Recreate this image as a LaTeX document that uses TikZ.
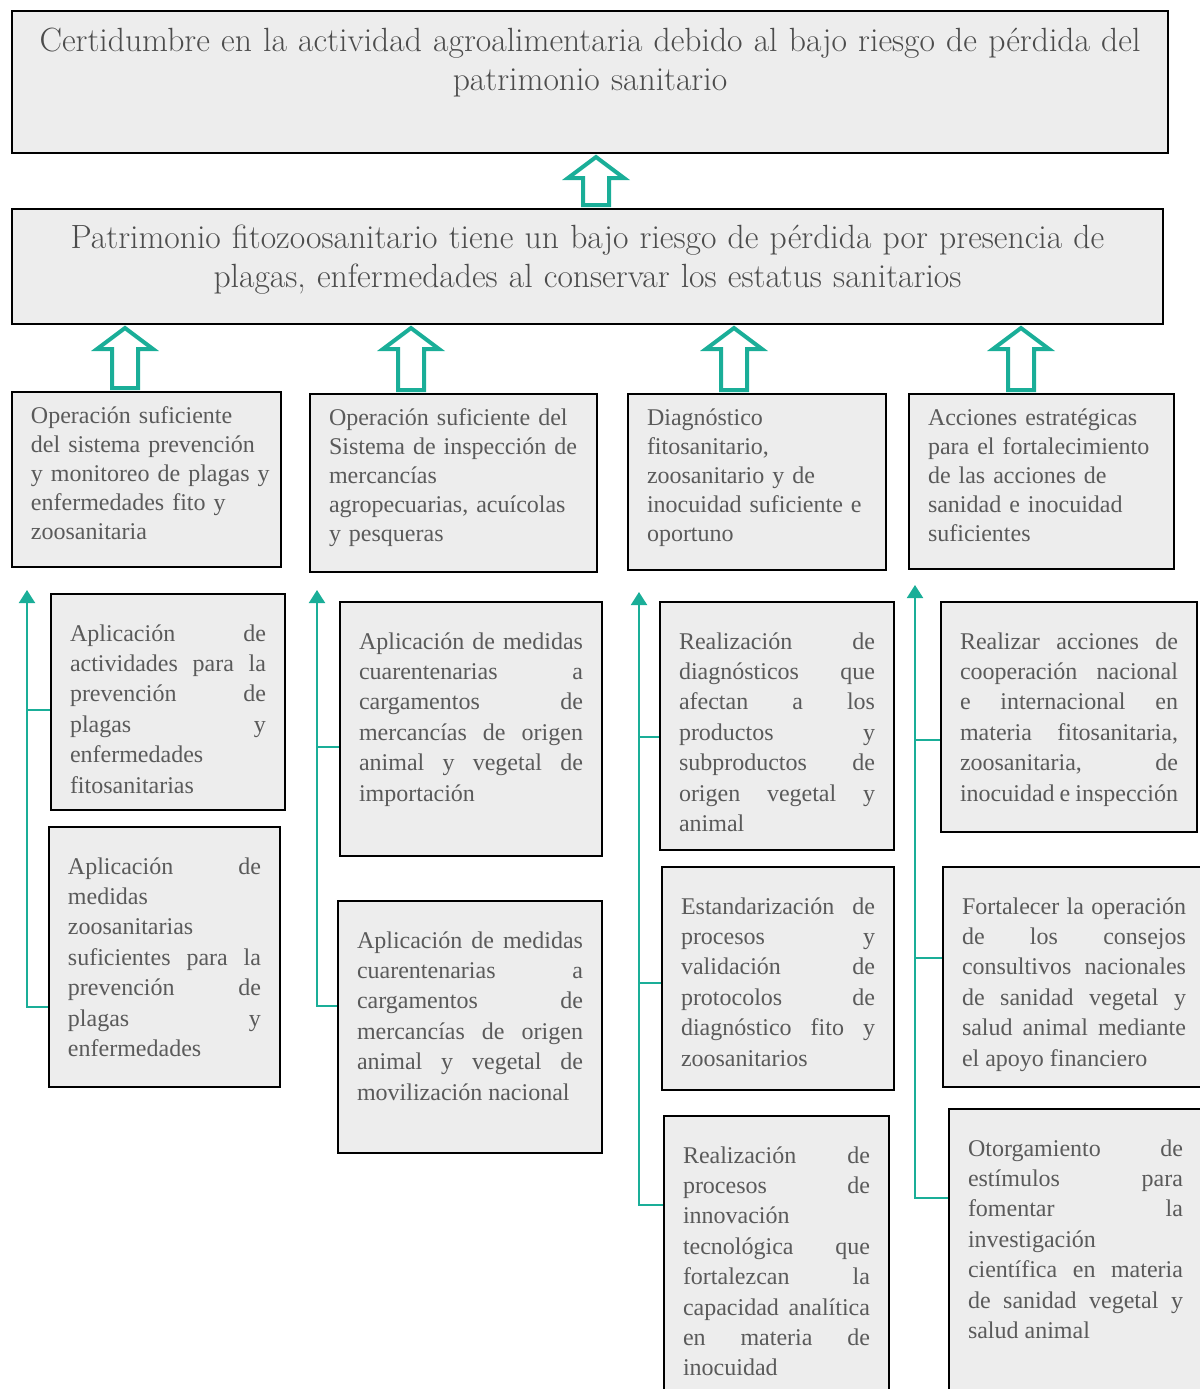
\documentclass[tikz,border=0pt]{standalone}
\usepackage{fontspec}
\usetikzlibrary{arrows.meta,calc}
\newfontfamily\boxfont{Liberation Serif}
\definecolor{boxgray}{HTML}{EDEDED}
\definecolor{txtgray}{HTML}{5A5A5A}
\definecolor{linkteal}{RGB}{26,174,152}
\hyphenpenalty=10000 \tolerance=10000 \hbadness=10000 \hfuzz=20pt
% hollow up arrow between two boxes, at x (in px units)
\newcommand{\blockup}[3]{%
  \draw[hollow] let \p1=(#1.north), \p2=(#2.south), \p3=(#3,0) in
    (\x3,\y2-1.5pt) -- (\x3+14pt,\y2-12pt) -- (\x3+6.5pt,\y2-12pt) -- (\x3+6.5pt,\y1+1.5pt)
    -- (\x3-6.5pt,\y1+1.5pt) -- (\x3-6.5pt,\y2-12pt) -- (\x3-14pt,\y2-12pt) -- cycle;}
\begin{document}
\begin{tikzpicture}[x=0.5pt,y=-0.5pt,
  box/.style={draw=black, line width=1pt, fill=boxgray, text=txtgray, anchor=north west},
  goal/.style={box, font=\fontsize{16.8}{19.5}\selectfont, text=txtgray!85!black, align=center, inner xsep=9.5pt, text height=12pt},
  comp/.style={box, font=\boxfont\fontsize{12}{14.6}\selectfont, align=left, inner xsep=9.5pt, inner ysep=6.5pt, text height=9pt},
  act/.style={box, font=\boxfont\fontsize{12}{15.2}\selectfont, align=justify, inner xsep=9.5pt, inner ysep=14.5pt, text height=9pt},
  link/.style={draw=linkteal, line width=1pt},
  tip/.style={-{Triangle[width=8pt,length=6.5pt]}},
  hollow/.style={draw=linkteal, line width=2pt, fill=white, line join=miter}]
\useasboundingbox (0,0) rectangle (1200,1389);
\clip (0,0) rectangle (1200,1389);

% fin y proposito
\node[goal, inner ysep=8pt, text width=559pt, text depth=43pt] (fin) at (11,10)
  {Certidumbre en la actividad agroalimentaria debido al bajo riesgo de pérdida del\\patrimonio sanitario};
\node[goal, inner ysep=7.5pt, text width=556.5pt, text depth=30.5pt] (prop) at (11,208)
  {Patrimonio fitozoosanitario tiene un bajo riesgo de pérdida por presencia de\\plagas, enfermedades al conservar los estatus sanitarios};

% componentes
\node[comp, text width=115.5pt, text depth=65.5pt] (ca) at (11,391)
  {Operación suficiente\\del sistema prevención\\\mbox{y monitoreo de plagas y}\\enfermedades fito y\\zoosanitaria};
\node[comp, text width=124.5pt, text depth=67pt] (cb) at (309,393)
  {Operación suficiente del\\Sistema de inspección de\\mercancías\\agropecuarias, acuícolas\\y pesqueras};
\node[comp, text width=110pt, text depth=66pt] (cc) at (627,393)
  {Diagnóstico\\fitosanitario,\\zoosanitario y de\\inocuidad suficiente e\\oportuno};
\node[comp, text width=113.5pt, text depth=65.5pt] (cd) at (908,393)
  {Acciones estratégicas\\para el fortalecimiento\\de las acciones de\\sanidad e inocuidad\\suficientes};

\blockup{prop}{fin}{596}
\blockup{ca}{prop}{125}
\blockup{cb}{prop}{411}
\blockup{cc}{prop}{734}
\blockup{cd}{prop}{1021}

% actividades
\node[act, text width=98pt, text depth=70pt] (a1) at (50,593)
  {Aplicación de\linebreak actividades para la\linebreak prevención de\linebreak plagas y\linebreak enfermedades\linebreak fitosanitarias};
\node[act, text width=96.5pt, text depth=92pt] (a2) at (48,826)
  {Aplicación de\linebreak medidas\linebreak zoosanitarias\linebreak suficientes para la\linebreak prevención de\linebreak plagas y\linebreak enfermedades};
\node[act, text width=112pt, text depth=89pt] (b1) at (339,601)
  {Aplicación de medidas\linebreak cuarentenarias a\linebreak cargamentos de\linebreak mercancías de origen\linebreak animal y vegetal de\linebreak importación};
\node[act, text width=113pt, text depth=88pt] (b2) at (337,900)
  {Aplicación de medidas\linebreak cuarentenarias a\linebreak cargamentos de\linebreak mercancías de origen\linebreak animal y vegetal de\linebreak movilización nacional};
\node[act, text width=98pt, text depth=86pt] (c1) at (659,601)
  {Realización de\linebreak diagnósticos que\linebreak afectan a los\linebreak productos y\linebreak subproductos de\linebreak origen vegetal y\linebreak animal};
\node[act, text width=97pt, text depth=73.5pt] (c2) at (661,866)
  {Estandarización de\linebreak procesos y\linebreak validación de\linebreak protocolos de\linebreak diagnóstico fito y\linebreak zoosanitarios};
\node[act, text width=93.5pt, text depth=132pt] (c3) at (663,1115)
  {Realización de\linebreak procesos de\linebreak innovación\linebreak tecnológica que\linebreak fortalezcan la\linebreak capacidad analítica\linebreak en materia de\linebreak inocuidad};
\node[act, text width=109pt, text depth=77pt] (d1) at (940,601)
  {Realizar acciones de\linebreak cooperación nacional\linebreak e internacional en\linebreak materia fitosanitaria,\linebreak zoosanitaria, de\linebreak inocuidad e inspección};
\node[act, text width=112pt, text depth=72pt] (d2) at (942,866)
  {Fortalecer la operación\linebreak de los consejos\linebreak consultivos nacionales\linebreak de sanidad vegetal y\linebreak salud animal mediante\linebreak el apoyo financiero};
\node[act, text width=107.5pt, text depth=132pt] (d3) at (948,1108)
  {Otorgamiento de\linebreak estímulos para\linebreak fomentar la\linebreak investigación\linebreak científica en materia\linebreak de sanidad vegetal y\linebreak salud animal};

% conectores columna A
\coordinate (ta) at (27,590);
\coordinate (ja1) at (27,710);
\coordinate (ja2) at (27,1007);
\draw[link] (ja1) -- (ja1 -| a1.west);
\draw[link,tip] (ja2 -| a2.west) -- (ja2) -- (ta);
% columna B
\coordinate (tb) at (317,590);
\coordinate (jb1) at (317,747);
\coordinate (jb2) at (317,1006);
\draw[link] (jb1) -- (jb1 -| b1.west);
\draw[link,tip] (jb2 -| b2.west) -- (jb2) -- (tb);
% columna C
\coordinate (tc) at (639,592);
\coordinate (jc1) at (639,737);
\coordinate (jc2) at (639,983);
\coordinate (jc3) at (639,1205);
\draw[link] (jc1) -- (jc1 -| c1.west);
\draw[link] (jc2) -- (jc2 -| c2.west);
\draw[link,tip] (jc3 -| c3.west) -- (jc3) -- (tc);
% columna D
\coordinate (td) at (915,585);
\coordinate (jd1) at (915,740);
\coordinate (jd2) at (915,958);
\coordinate (jd3) at (915,1198);
\draw[link] (jd1) -- (jd1 -| d1.west);
\draw[link] (jd2) -- (jd2 -| d2.west);
\draw[link,tip] (jd3 -| d3.west) -- (jd3) -- (td);
\end{tikzpicture}
\end{document}
